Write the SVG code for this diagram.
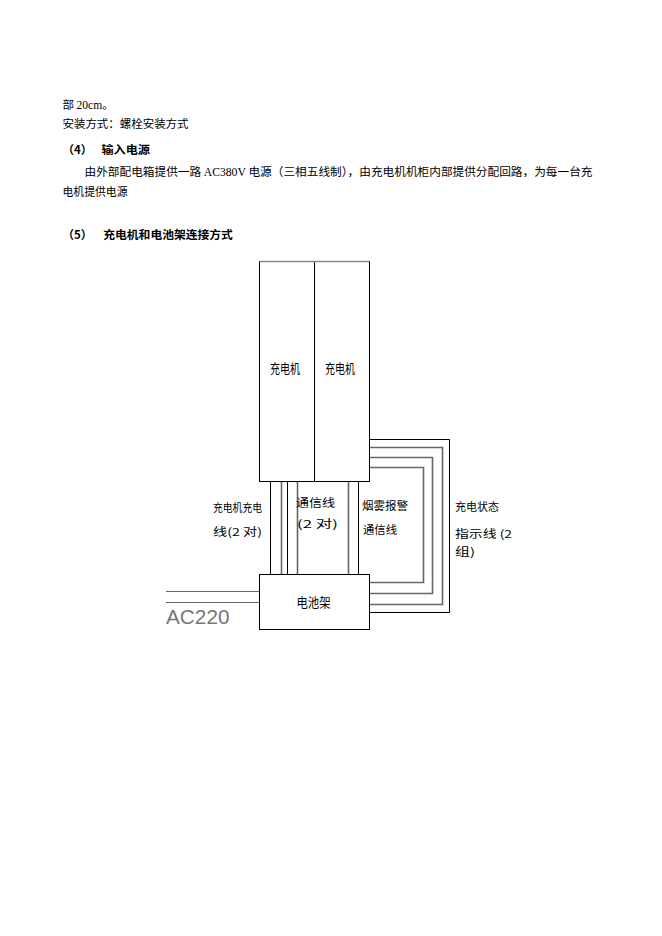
<svg xmlns="http://www.w3.org/2000/svg" width="662" height="936" viewBox="0 0 662 936">
<style>
.p{font-family:"Noto Sans CJK SC","Liberation Serif",sans-serif;font-size:11.5px;fill:#000}
.b{font-weight:bold}
.lat{font-family:"Liberation Serif",serif}
.box{fill:#fff;stroke:#000;stroke-width:1}
.nl{font-family:"Noto Sans CJK SC",sans-serif;font-size:13px;fill:#000}
.lb{font-family:"Noto Sans CJK SC",sans-serif;font-size:11px;fill:#000}
.w{fill:none;stroke-width:1}
.k{stroke:#000}
.g{stroke:#666;stroke-width:1.6}
</style>
<rect width="662" height="936" fill="#fff"/>
<g id="text-body">
<text class="p" x="62.5" y="108.5">部 <tspan class="lat">20cm</tspan>。</text>
<text class="p" x="62.5" y="128" textLength="126" lengthAdjust="spacingAndGlyphs">安装方式：螺栓安装方式</text>
<text class="p b" x="62.5" y="153.5">（4）</text>
<text class="p b" x="101.5" y="153.5" textLength="48.5" lengthAdjust="spacingAndGlyphs">输入电源</text>
<text class="p" x="84.5" y="175.5" textLength="508" lengthAdjust="spacingAndGlyphs">由外部配电箱提供一路 <tspan class="lat">AC380V</tspan> 电源（三相五线制），由充电机机柜内部提供分配回路，为每一台充</text>
<text class="p" x="62.5" y="196" textLength="65" lengthAdjust="spacingAndGlyphs">电机提供电源</text>
<text class="p b" x="62.5" y="239">（5）</text>
<text class="p b" x="103.3" y="239" textLength="129.5" lengthAdjust="spacingAndGlyphs">充电机和电池架连接方式</text>
</g>
<g id="connectors">
<g id="charge-lines">
<line class="w k" x1="270.5" y1="481.5" x2="270.5" y2="574.5"/>
<line class="w g" x1="281.5" y1="481.5" x2="281.5" y2="574.5"/>
<line class="w k" x1="287.5" y1="481.5" x2="287.5" y2="574.5"/>
<line class="w g" x1="297.5" y1="481.5" x2="297.5" y2="574.5"/>
<line class="w g" x1="348.5" y1="481.5" x2="348.5" y2="574.5"/>
<line class="w k" x1="358.5" y1="481.5" x2="358.5" y2="574.5"/>
</g>
<g id="status-loops">
<path class="w k" d="M369.5 439.5H449.5V612.5H369.5"/>
<path class="w g" d="M369.5 447.5H442.5V604.5H369.5"/>
<path class="w g" d="M369.5 457.5H432.5V593.5H369.5"/>
<path class="w g" d="M369.5 467.5H423.5V582.5H369.5"/>
</g>
<g id="ac-input">
<line class="w" stroke="#666" x1="166" y1="591.5" x2="259.5" y2="591.5"/>
<line class="w" stroke="#666" x1="166" y1="602.5" x2="259.5" y2="602.5"/>
<text x="166" y="624" font-family="Liberation Sans, sans-serif" font-size="20.5" fill="#777" textLength="63.5" lengthAdjust="spacingAndGlyphs">AC220</text>
</g>
<g id="labels">
<text class="lb" x="213" y="512" textLength="49" lengthAdjust="spacingAndGlyphs">充电机充电</text>
<text class="lb" x="213" y="535.5" textLength="49" lengthAdjust="spacingAndGlyphs">线(2 对)</text>
<text class="lb" x="296" y="507" textLength="39" lengthAdjust="spacingAndGlyphs">通信线</text>
<text class="lb" x="297" y="527.5" textLength="41" lengthAdjust="spacingAndGlyphs">(2 对)</text>
<text class="lb" x="362" y="509.5" textLength="46" lengthAdjust="spacingAndGlyphs">烟雾报警</text>
<text class="lb" x="363" y="534" textLength="34" lengthAdjust="spacingAndGlyphs">通信线</text>
<text class="lb" x="455" y="511" textLength="44" lengthAdjust="spacingAndGlyphs">充电状态</text>
<text class="lb" x="455" y="537.5" textLength="57" lengthAdjust="spacingAndGlyphs">指示线 (2</text>
<text class="lb" x="455" y="556" textLength="20" lengthAdjust="spacingAndGlyphs">组)</text>
</g>
</g>
<g id="charger1">
<rect class="box" x="259.5" y="261.5" width="55" height="220"/>
<text class="nl" x="270" y="373" textLength="30" lengthAdjust="spacingAndGlyphs">充电机</text>
</g>
<g id="charger2">
<rect class="box" x="314.5" y="261.5" width="55" height="220"/>
<text class="nl" x="325" y="373" textLength="30" lengthAdjust="spacingAndGlyphs">充电机</text>
</g>
<line x1="259.5" y1="261.5" x2="369.5" y2="261.5" stroke="#888" stroke-width="1.5"/>
<g id="battery-rack">
<rect class="box" x="259.5" y="574.5" width="110" height="55"/>
<text class="nl" x="296.5" y="607" textLength="34" lengthAdjust="spacingAndGlyphs">电池架</text>
</g>
</svg>
